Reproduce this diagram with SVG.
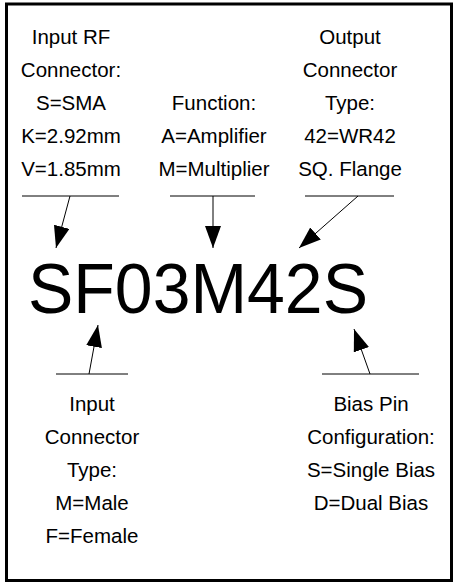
<svg xmlns="http://www.w3.org/2000/svg" width="454" height="583" viewBox="0 0 454 583">
<style>
.t{font-family:"Liberation Sans",Arial,sans-serif;font-size:20.5px;fill:#000;text-anchor:middle}
.code{font-family:"Liberation Sans",Arial,sans-serif;font-size:71px;fill:#000}
.ln{stroke:#000;stroke-width:1;fill:none}
</style>
<defs>
<marker id="ah" markerUnits="userSpaceOnUse" markerWidth="24" markerHeight="18" refX="22" refY="8" orient="auto" viewBox="0 0 24 18">
<path d="M0,0 L22,8 L0,16 z" fill="#000"/>
</marker>
</defs>
<rect x="6.5" y="4" width="445" height="576.5" fill="#fff" stroke="#000" stroke-width="3"/>
<g id="input-rf">
<text class="t" x="71" y="44">Input RF</text>
<text class="t" x="71" y="77">Connector:</text>
<text class="t" x="71" y="110">S=SMA</text>
<text class="t" x="71" y="143">K=2.92mm</text>
<text class="t" x="71" y="176">V=1.85mm</text>
</g>
<g id="function">
<text class="t" x="214" y="110">Function:</text>
<text class="t" x="214" y="143">A=Amplifier</text>
<text class="t" x="214" y="176">M=Multiplier</text>
</g>
<g id="output">
<text class="t" x="350" y="44">Output</text>
<text class="t" x="350" y="77">Connector</text>
<text class="t" x="350" y="110">Type:</text>
<text class="t" x="350" y="143">42=WR42</text>
<text class="t" x="350" y="176">SQ. Flange</text>
</g>
<g id="code">
<text class="code" x="28" y="313" textLength="340" lengthAdjust="spacingAndGlyphs">SF03M42S</text>
</g>
<g id="input-type">
<text class="t" x="92" y="411">Input</text>
<text class="t" x="92" y="444">Connector</text>
<text class="t" x="92" y="477">Type:</text>
<text class="t" x="92" y="510">M=Male</text>
<text class="t" x="92" y="543">F=Female</text>
</g>
<g id="bias">
<text class="t" x="371" y="411">Bias Pin</text>
<text class="t" x="371" y="444">Configuration:</text>
<text class="t" x="371" y="477">S=Single Bias</text>
<text class="t" x="371" y="510">D=Dual Bias</text>
</g>
<g id="connectors">
<line class="ln" x1="22" y1="196" x2="119" y2="196"/>
<line class="ln" x1="70" y1="196" x2="56" y2="248" marker-end="url(#ah)"/>
<line class="ln" x1="170" y1="196" x2="255" y2="196"/>
<line class="ln" x1="213" y1="196" x2="213" y2="248" marker-end="url(#ah)"/>
<line class="ln" x1="305" y1="196" x2="394" y2="196"/>
<line class="ln" x1="358" y1="196" x2="299" y2="248" marker-end="url(#ah)"/>
<line class="ln" x1="56" y1="374" x2="128" y2="374"/>
<line class="ln" x1="89" y1="374" x2="98" y2="325" marker-end="url(#ah)"/>
<line class="ln" x1="322" y1="374" x2="419" y2="374"/>
<line class="ln" x1="370" y1="374" x2="354" y2="329" marker-end="url(#ah)"/>
</g>
</svg>
